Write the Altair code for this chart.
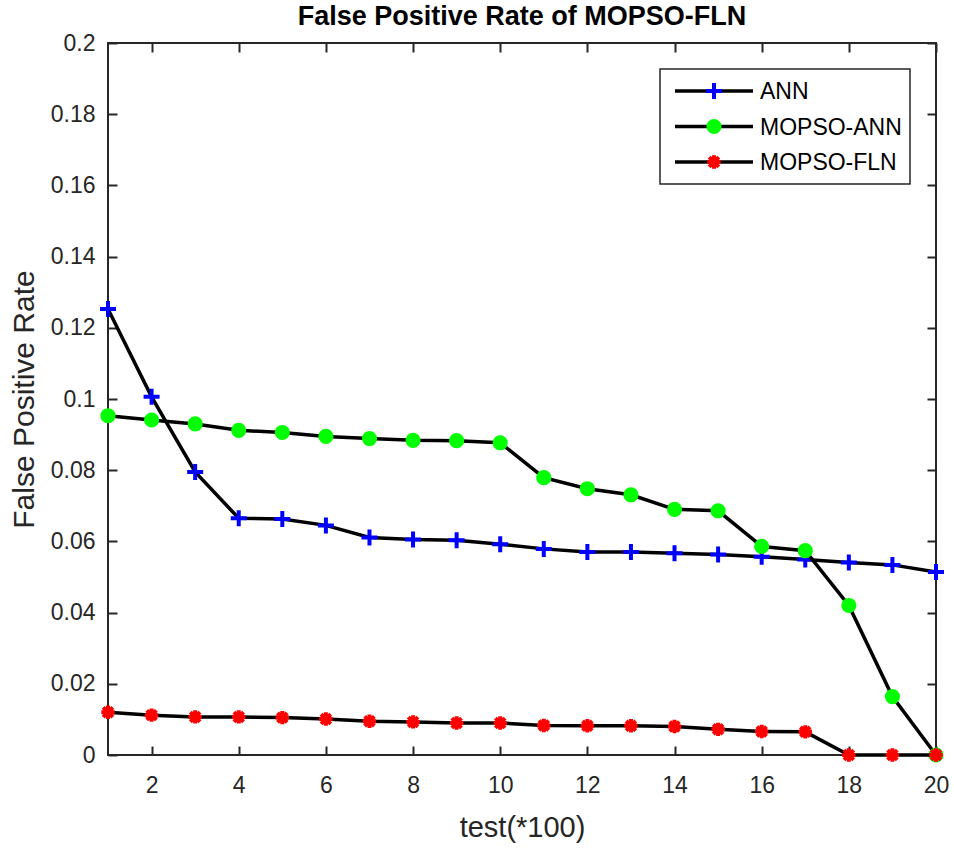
import altair as alt
import pandas as pd

# Test batches (x100 samples)
tests = list(range(1, 21))

# False positive rate per batch for each model
ann = [0.1253, 0.1006, 0.0795, 0.0665, 0.0663, 0.0645, 0.0611, 0.0605, 0.0603, 0.0592,
       0.0579, 0.0570, 0.0570, 0.0567, 0.0563, 0.0557, 0.0549, 0.0541, 0.0534, 0.0514]
mopso_ann = [0.0953, 0.0941, 0.0930, 0.0912, 0.0906, 0.0895, 0.0889, 0.0884, 0.0883, 0.0877,
             0.0779, 0.0748, 0.0731, 0.0690, 0.0686, 0.0586, 0.0574, 0.0420, 0.0164, 0.0]
mopso_fln = [0.0120, 0.0112, 0.0107, 0.0107, 0.0105, 0.0101, 0.0095, 0.0093, 0.0090, 0.0090,
             0.0083, 0.0082, 0.0082, 0.0080, 0.0072, 0.0066, 0.0065, 0.0, 0.0, 0.0]

series_names = ["ANN", "MOPSO-ANN", "MOPSO-FLN"]
series_values = [ann, mopso_ann, mopso_fln]

x_ticks = [2, 4, 6, 8, 10, 12, 14, 16, 18, 20]
y_ticks = [0, 0.02, 0.04, 0.06, 0.08, 0.1, 0.12, 0.14, 0.16, 0.18, 0.2]

W, H = 828, 712
FONT = "Liberation Sans"
GREY = "#262626"

PLUS = "M-1,0L1,0M0,-1L0,1"
STAR = "M-1,0L1,0M0,-1L0,1M-0.72,-0.72L0.72,0.72M-0.72,0.72L0.72,-0.72"

marker_styles = {
    "ANN": dict(shape=PLUS, filled=False, stroke="#0000ff", strokeWidth=4, size=256, opacity=1),
    "MOPSO-ANN": dict(shape="circle", filled=True, fill="#00ff00", strokeWidth=0, size=230, opacity=1),
    "MOPSO-FLN": dict(shape=STAR, filled=False, stroke="#ff0000", strokeWidth=4, size=180, opacity=1),
}

frames = {
    name: pd.DataFrame({"test": tests, "rate": vals, "series": name})
    for name, vals in zip(series_names, series_values)
}
all_df = pd.concat(frames.values(), ignore_index=True)

x_scale = alt.Scale(domain=[1, 20], nice=False, zero=False)
y_scale = alt.Scale(domain=[0, 0.2], nice=False, zero=False)

tick_style = dict(labels=False, title=None, domain=False, grid=False,
                  tickSize=9, tickWidth=2, tickColor=GREY)

# Lines and markers, one series after another
data_layers = []
for name in series_names:
    enc = dict(
        x=alt.X("test:Q", scale=x_scale, axis=None),
        y=alt.Y("rate:Q", scale=y_scale, axis=None),
    )
    data_layers.append(
        alt.Chart(frames[name]).mark_line(color="black", strokeWidth=3.5).encode(**enc)
    )
    data_layers.append(
        alt.Chart(frames[name]).mark_point(**marker_styles[name]).encode(**enc)
    )

# Labelled axes (bottom, left)
labelled_axes = alt.Chart(all_df).mark_point(opacity=0).encode(
    x=alt.X("test:Q", scale=x_scale, title="test(*100)",
            axis=alt.Axis(orient="bottom", values=x_ticks, tickSize=0, domain=False, grid=False,
                          labelFontSize=23, labelPadding=19, labelColor=GREY, labelFont=FONT,
                          title="test(*100)", titleFontSize=29, titleFontWeight="normal",
                          titleColor=GREY, titleFont=FONT, titlePadding=16, labelFlush=False)),
    y=alt.Y("rate:Q", scale=y_scale, title="False Positive Rate",
            axis=alt.Axis(orient="left", values=y_ticks, format=".2~f", tickSize=0, domain=False,
                          grid=False, labelFontSize=23, labelPadding=13, labelColor=GREY,
                          labelFont=FONT, title="False Positive Rate", titleFontSize=30,
                          titleFontWeight="normal", titleColor=GREY, titleFont=FONT,
                          titlePadding=11, labelFlush=False)),
)

# Inward ticks on the bottom and left edges
ticks_a = alt.Chart(all_df).mark_point(opacity=0).encode(
    x=alt.X("test:Q", scale=x_scale, axis=alt.Axis(orient="top", offset=-H, values=x_ticks, **tick_style)),
    y=alt.Y("rate:Q", scale=y_scale, axis=alt.Axis(orient="right", offset=-W, values=y_ticks, **tick_style)),
)

# Inward ticks on the top and right edges
ticks_b = alt.Chart(all_df).mark_point(opacity=0).encode(
    x=alt.X("test:Q", scale=x_scale, axis=alt.Axis(orient="bottom", offset=-H, values=x_ticks, **tick_style)),
    y=alt.Y("rate:Q", scale=y_scale, axis=alt.Axis(orient="left", offset=-W, values=y_ticks, **tick_style)),
)

# Legend box with line-and-marker samples
LEG_X0, LEG_X1, LEG_Y0, LEG_Y1 = 552, 802, 26, 141
legend_box = alt.Chart(pd.DataFrame({"series": ["legend"]})).mark_rect(
    fill="white", stroke=GREY, strokeWidth=1.5
).encode(x=alt.value(LEG_X0), x2=alt.value(LEG_X1), y=alt.value(LEG_Y0), y2=alt.value(LEG_Y1))

legend_layers = [legend_box]
for i, name in enumerate(series_names):
    row_y = 48 + 35.5 * i
    one = pd.DataFrame({"series": [name]})
    legend_layers.append(
        alt.Chart(one).mark_rule(color="black", strokeWidth=3.5).encode(
            x=alt.value(567), x2=alt.value(645), y=alt.value(row_y))
    )
    legend_layers.append(
        alt.Chart(one).mark_point(**marker_styles[name]).encode(
            x=alt.value(606), y=alt.value(row_y))
    )
    legend_layers.append(
        alt.Chart(one).mark_text(align="left", baseline="middle", fontSize=23, font=FONT,
                                 color="black").encode(
            x=alt.value(652), y=alt.value(row_y + 1), text="series:N")
    )

chart = alt.layer(
    labelled_axes, ticks_a, ticks_b, *data_layers, *legend_layers
).resolve_scale(
    x="shared", y="shared"
).resolve_axis(
    x="independent", y="independent"
).properties(
    width=W,
    height=H,
    title=alt.TitleParams("False Positive Rate of MOPSO-FLN", fontSize=27, fontWeight="bold",
                          font=FONT, color="black", anchor="middle", offset=1),
    autosize=alt.AutoSizeParams(type="none"),
    padding={"left": 108, "top": 43, "right": 18, "bottom": 95},
    background="white",
).configure_view(
    stroke=GREY, strokeWidth=2
)

chart.save("out.html", embed_options={"renderer": "svg", "actions": False})
